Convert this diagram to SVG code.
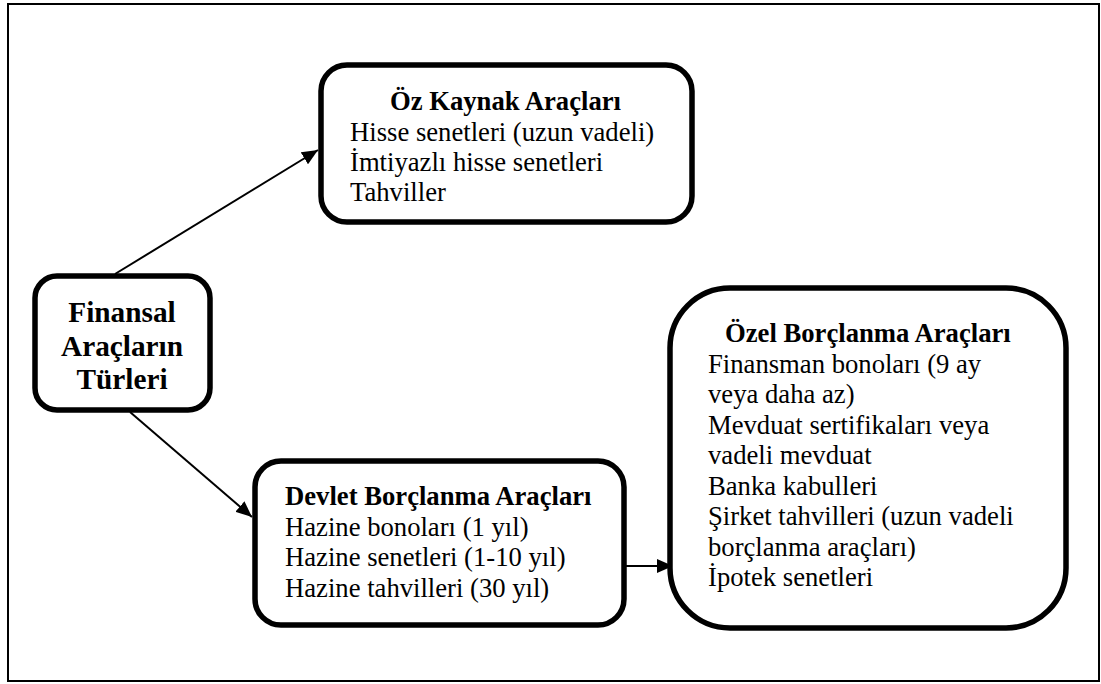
<svg xmlns="http://www.w3.org/2000/svg" width="1101" height="684" viewBox="0 0 1101 684">
<style>
.box{fill:#fff;stroke:#000;stroke-width:5.5}
.t{font-family:"Liberation Serif","Times New Roman",serif;font-size:26.67px;fill:#000}
.b{font-weight:bold}
.c{stroke:#000;stroke-width:2;fill:none}
</style>
<defs>
<marker id="ah" markerUnits="userSpaceOnUse" markerWidth="18" markerHeight="14" refX="16" refY="7" orient="auto">
<path d="M0,0 L16,7 L0,14 Z" fill="#000"/>
</marker>
</defs>
<rect x="0" y="0" width="1101" height="684" fill="#fff"/>
<rect x="8" y="4" width="1091" height="677" fill="none" stroke="#000" stroke-width="2"/>
<g id="connectors">
<line class="c" x1="115" y1="274" x2="318" y2="150" marker-end="url(#ah)"/>
<line class="c" x1="130" y1="412" x2="252" y2="517" marker-end="url(#ah)"/>
<line class="c" x1="626" y1="566" x2="673" y2="566" marker-end="url(#ah)"/>
</g>
<g id="finansal">
<rect class="box" x="35" y="276" width="175" height="134" rx="22"/>
<text class="t b" x="122" y="322" text-anchor="middle" style="font-size:29.3px">Finansal</text>
<text class="t b" x="122" y="355.5" text-anchor="middle" style="font-size:29.3px">Araçların</text>
<text class="t b" x="122" y="389" text-anchor="middle" style="font-size:29.3px">Türleri</text>
</g>
<g id="ozkaynak">
<rect class="box" x="321" y="65" width="371" height="157" rx="26"/>
<text class="t b" x="390" y="110">Öz Kaynak Araçları</text>
<text class="t" x="350" y="141">Hisse senetleri (uzun vadeli)</text>
<text class="t" x="350" y="171">İmtiyazlı hisse senetleri</text>
<text class="t" x="350" y="201">Tahviller</text>
</g>
<g id="devlet">
<rect class="box" x="255" y="461" width="369" height="164" rx="26"/>
<text class="t b" x="285" y="505">Devlet Borçlanma Araçları</text>
<text class="t" x="285" y="535.5">Hazine bonoları (1 yıl)</text>
<text class="t" x="285" y="566">Hazine senetleri (1-10 yıl)</text>
<text class="t" x="285" y="596.5">Hazine tahvilleri (30 yıl)</text>
</g>
<g id="ozel">
<rect class="box" x="670" y="288" width="396" height="340" rx="60"/>
<text class="t b" x="725" y="342">Özel Borçlanma Araçları</text>
<text class="t" x="708" y="372.5">Finansman bonoları (9 ay</text>
<text class="t" x="708" y="403">veya daha az)</text>
<text class="t" x="708" y="433.5">Mevduat sertifikaları veya</text>
<text class="t" x="708" y="464">vadeli mevduat</text>
<text class="t" x="708" y="494.5">Banka kabulleri</text>
<text class="t" x="708" y="525">Şirket tahvilleri (uzun vadeli</text>
<text class="t" x="708" y="555.5">borçlanma araçları)</text>
<text class="t" x="708" y="586">İpotek senetleri</text>
</g>
</svg>
